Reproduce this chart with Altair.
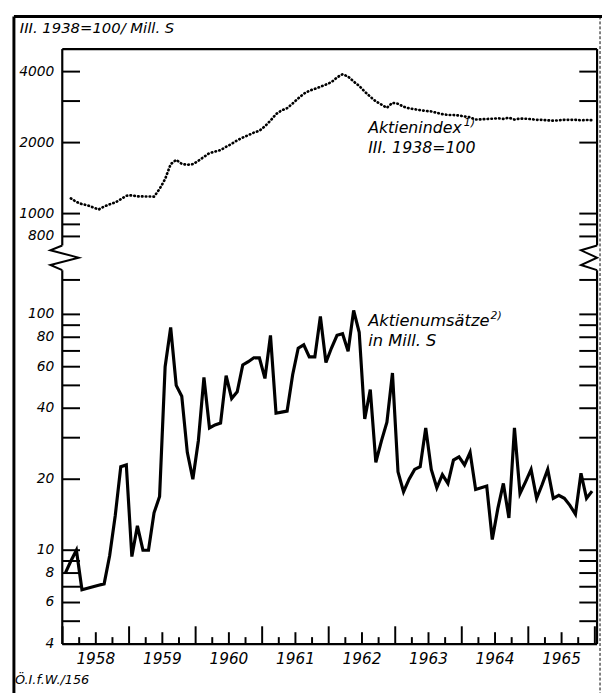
import altair as alt
import pandas as pd

# ---------------- data (month 0 = Jan 1958 ... 95 = Dec 1965) ----------------
years = [1958, 1959, 1960, 1961, 1962, 1963, 1964, 1965]

# Aktienumsätze, Mill. S (monthly)
turnover = [
    8.0, 9.0, 10.0, 6.8, 6.9, 7.0, 7.1, 7.2, 9.5, 14.0, 22.6, 23.0,      # 1958
    9.4, 12.7, 10.0, 10.0, 14.4, 16.9, 60.0, 88.0, 50.0, 45.0, 26.0, 20.0,  # 1959
    29.2, 54.0, 33.0, 34.0, 34.6, 55.0, 44.0, 47.0, 61.0, 63.0, 65.5, 65.4,  # 1960
    53.5, 81.5, 38.1, 38.5, 38.9, 55.5, 71.9, 74.3, 66.0, 66.0, 98.0, 62.5,  # 1961
    72.0, 81.5, 82.8, 69.8, 104.0, 84.0, 36.0, 48.0, 23.6, 29.0, 34.9, 56.4,  # 1962
    21.5, 17.7, 20.0, 22.0, 22.6, 33.0, 22.0, 18.4, 20.9, 19.2, 24.1, 24.9,  # 1963
    23.0, 26.0, 18.1, 18.4, 18.7, 11.1, 15.0, 19.2, 13.7, 33.0, 17.4, 19.5,  # 1964
    22.0, 16.6, 19.0, 22.0, 16.6, 17.1, 16.6, 15.5, 14.2, 21.2, 16.6, 17.8,  # 1965
]

# Aktienindex, III. 1938 = 100 (monthly)
aktienindex = [
    None, 1160, 1120, 1097, 1084, 1063, 1040, 1072, 1095, 1115, 1150, 1190,
    1195, 1183, 1182, 1182, 1180, 1272, 1401, 1620, 1690, 1625, 1610, 1620,
    1675, 1740, 1805, 1832, 1860, 1920, 1975, 2045, 2100, 2150, 2205, 2245,
    2345, 2480, 2640, 2740, 2800, 2930, 3080, 3220, 3320, 3380, 3450, 3525,
    3610, 3780, 3900, 3810, 3630, 3480, 3290, 3130, 2990, 2900, 2810, 2950,
    2920, 2840, 2795, 2770, 2745, 2725, 2710, 2675, 2640, 2620, 2618, 2605,
    2582, 2560, 2505, 2510, 2518, 2525, 2535, 2522, 2550, 2505, 2530, 2525,
    2515, 2498, 2498, 2485, 2476, 2485, 2498, 2498, 2498, 2485, 2495, 2490,
]

lower_tick_values = [4, 5, 6, 7, 8, 9, 10, 20, 30, 40, 50, 60, 70, 80, 90, 100, 140]
upper_tick_values = [800, 900, 1000, 2000, 3000, 4000]
lower_labels = [4, 6, 8, 10, 20, 40, 60, 80, 100]
upper_labels = [800, 1000, 2000, 4000]

# ---------------- layout / style ----------------
K = 3.737          # index units per turnover unit on the shared (broken) log axis
W, H = 542, 603
FONT = "DejaVu Sans"
BREAK_TOP, BREAK_BOT = 196, 154
X_LO, X_HI = -0.55, 95.9

df = pd.DataFrame({"m": list(range(96)), "turnover": turnover, "aktien": aktienindex})

xscale = alt.Scale(domain=[X_LO, X_HI], nice=False, zero=False)
yscale = alt.Scale(type="log", domain=[4, 1334], nice=False)

turn_line = alt.Chart(df).mark_line(
    color="black", strokeWidth=3.2, strokeMiterLimit=4
).encode(
    x=alt.X("m:Q", scale=xscale, axis=None),
    y=alt.Y("turnover:Q", scale=yscale, axis=None),
)

idx_line = alt.Chart(df).transform_filter("isValid(datum.aktien)").transform_calculate(
    iy=f"datum.aktien / {K}"
).mark_line(
    color="black", strokeWidth=2.7, strokeDash=[0.5, 3.4], strokeCap="round"
).encode(
    x=alt.X("m:Q", scale=xscale, axis=None),
    y=alt.Y("iy:Q", scale=yscale, axis=None),
)

# y tick labels (text through the y scale)
ylab_df = pd.DataFrame({
    "v": lower_labels + [u / K for u in upper_labels],
    "lab": [str(v) for v in lower_labels] + [str(u) for u in upper_labels],
})
y_labels = alt.Chart(ylab_df).mark_text(
    align="right", baseline="middle", font=FONT, fontStyle="italic",
    fontSize=14, color="black", dx=-8,
).encode(
    y=alt.Y("v:Q", scale=yscale, axis=None), x=alt.value(0), text="lab:N"
)

# x labels: years centred on each year
xlab_df = pd.DataFrame({"m": [12 * i + 5.5 for i in range(len(years))],
                        "lab": [str(y) for y in years]})
x_labels = alt.Chart(xlab_df).mark_text(
    align="center", baseline="top", font=FONT, fontStyle="italic",
    fontSize=15.5, color="black", dy=8,
).encode(
    x=alt.X("m:Q", scale=xscale, axis=None), y=alt.value(H), text="lab:N"
)

# inward y ticks (left and right)
ytick_df = pd.DataFrame({"v": lower_tick_values + [u / K for u in upper_tick_values]})
left_ticks = alt.Chart(ytick_df).mark_rule(color="black", strokeWidth=2).encode(
    y=alt.Y("v:Q", scale=yscale, axis=None), x=alt.value(0), x2=alt.value(18)
)
right_ticks = alt.Chart(ytick_df).mark_rule(color="black", strokeWidth=2).encode(
    y=alt.Y("v:Q", scale=yscale, axis=None), x=alt.value(W - 18), x2=alt.value(W)
)

# inward x ticks: year boundaries long, mid-year medium, quarters short
xt_m, xt_kind = [], []
for yi in range(len(years)):
    for q in range(4):
        xt_m.append(12 * yi + 3 * q - 0.5)
        xt_kind.append("year" if q == 0 else ("half" if q == 2 else "quarter"))
xt_m.append(95.5)
xt_kind.append("year")
xt_df = pd.DataFrame({"m": xt_m, "kind": xt_kind})
tick_len = {"year": 18, "half": 12, "quarter": 7}
x_ticks = [
    alt.Chart(xt_df).transform_filter(f"datum.kind == '{k}'").mark_rule(
        color="black", strokeWidth=2
    ).encode(
        x=alt.X("m:Q", scale=xscale, axis=None), y=alt.value(H), y2=alt.value(H - L)
    )
    for k, L in tick_len.items()
]

# frame of the plot, broken on left/right at the axis break
seg_df = pd.DataFrame({"a": [4, BREAK_TOP], "b": [BREAK_BOT, 1334]})
left_seg = alt.Chart(seg_df).mark_rule(color="black", strokeWidth=2.2).encode(
    y=alt.Y("a:Q", scale=yscale, axis=None), y2="b:Q", x=alt.value(0)
)
right_seg = alt.Chart(seg_df).mark_rule(color="black", strokeWidth=2.2).encode(
    y=alt.Y("a:Q", scale=yscale, axis=None), y2="b:Q", x=alt.value(W)
)
one = pd.DataFrame({"d": [0]})
top_line = alt.Chart(one).mark_rule(color="black", strokeWidth=2.2).encode(
    x=alt.value(0), x2=alt.value(W), y=alt.value(0)
)
bottom_line = alt.Chart(one).mark_rule(color="black", strokeWidth=2.2).encode(
    x=alt.value(0), x2=alt.value(W), y=alt.value(H)
)

# zig-zag break symbols
zz_df = pd.DataFrame({
    "m": [X_LO, -2.7, 2.4, -2.7, X_LO, X_HI, 93.0, X_HI, 93.0, X_HI],
    "v": [BREAK_TOP, 187, 174, 162, BREAK_BOT] * 2,
    "side": ["L"] * 5 + ["R"] * 5,
    "o": list(range(5)) * 2,
})
zigzag = alt.Chart(zz_df).mark_line(color="black", strokeWidth=2, clip=False).encode(
    x=alt.X("m:Q", scale=xscale, axis=None),
    y=alt.Y("v:Q", scale=yscale, axis=None),
    detail="side:N", order="o:Q",
)

# outer frame of the figure
outer_left = alt.Chart(one).mark_rule(color="black", strokeWidth=3).encode(
    x=alt.value(-49), y=alt.value(-33), y2=alt.value(H + 50)
)
outer_top = alt.Chart(one).mark_rule(color="black", strokeWidth=3).encode(
    x=alt.value(-49), x2=alt.value(W + 6), y=alt.value(-33)
)
outer_right = alt.Chart(one).mark_rule(color="black", strokeWidth=1, strokeDash=[3, 2]).encode(
    x=alt.value(W + 3), y=alt.value(-33), y2=alt.value(H + 50)
)


def label(txt, x, y, size=16):
    return alt.Chart(one).mark_text(
        text=txt, align="left", baseline="alphabetic", font=FONT,
        fontStyle="italic", fontSize=size, color="black",
    ).encode(x=alt.value(x), y=alt.value(y))


texts = [
    label("III. 1938=100/ Mill. S", -43, -16, 15),
    label("Aktienindex", 310, 85, 16),
    label("1)", 407, 78, 11),
    label("III. 1938=100", 310, 105, 16),
    label("Aktienumsätze", 310, 281, 16.5),
    label("2)", 434, 274, 11),
    label("in Mill. S", 310, 301, 16.5),
    label("Ö.I.f.W./156", -48, 643, 13),
]

chart = alt.layer(
    turn_line, idx_line, y_labels, x_labels, left_ticks, right_ticks, *x_ticks,
    left_seg, right_seg, top_line, bottom_line, zigzag,
    outer_left, outer_top, outer_right, *texts,
).properties(
    width=W, height=H,
    autosize=alt.AutoSizeParams(type="none"),
    padding={"left": 55, "top": 37, "right": 5, "bottom": 45},
    background="white",
).configure_view(stroke="transparent")

chart.save("out.html", embed_options={"renderer": "svg", "actions": False})
